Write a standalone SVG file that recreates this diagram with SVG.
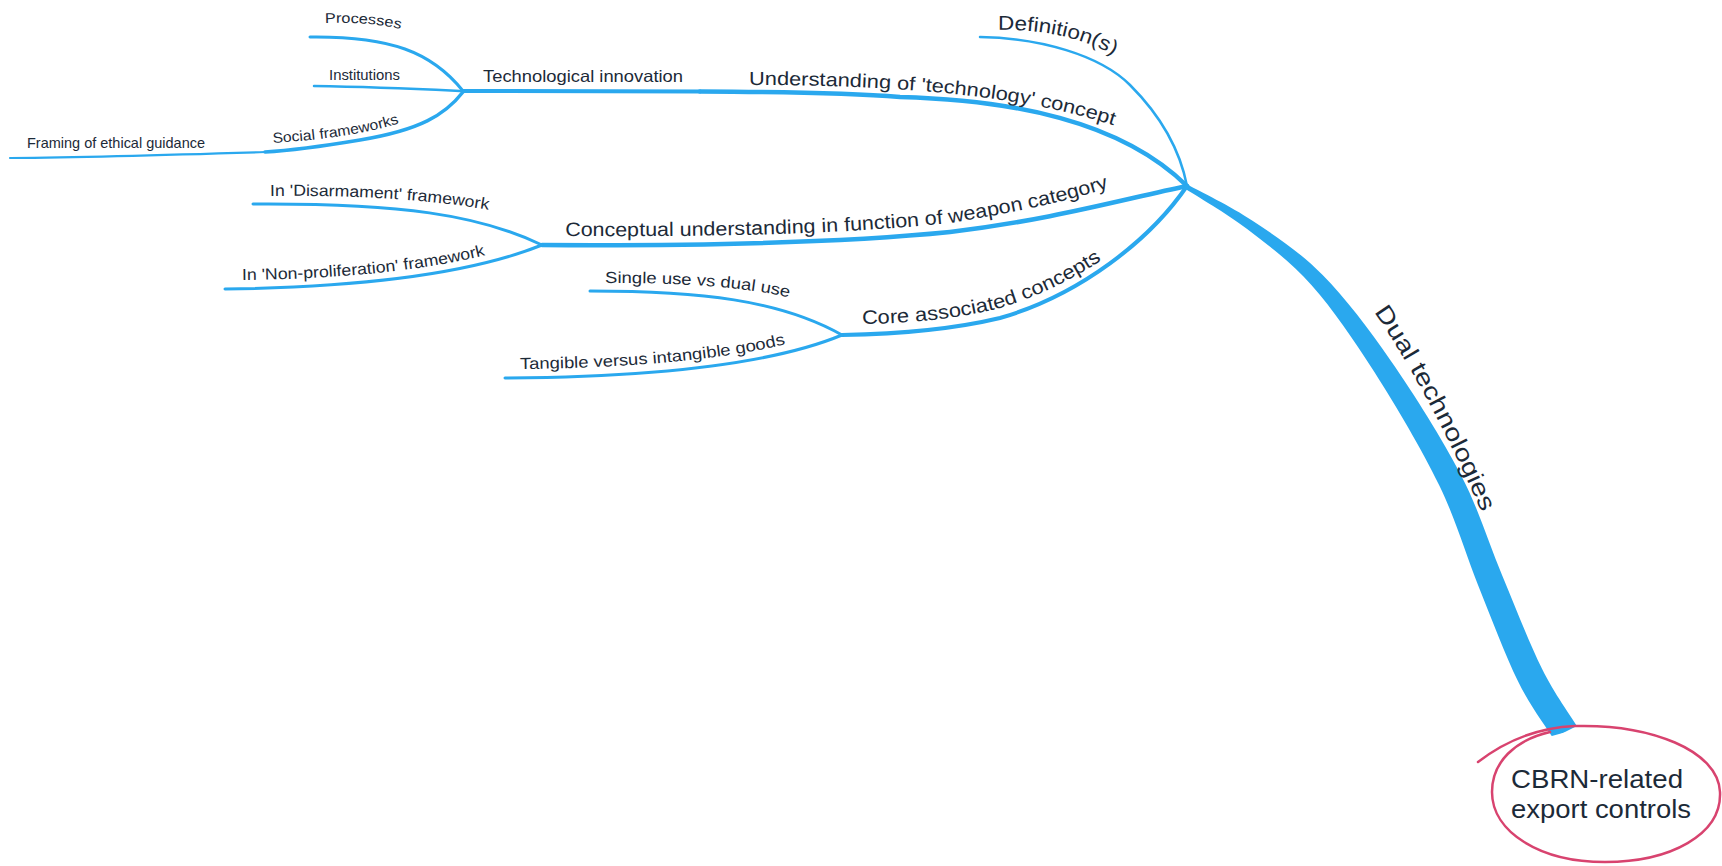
<svg xmlns="http://www.w3.org/2000/svg" width="1722" height="866" viewBox="0 0 1722 866">
<style>
.ln{fill:none;stroke:#2aa8ee;stroke-linecap:round;stroke-linejoin:round}
.t{font-family:"Liberation Sans",Arial,Helvetica,sans-serif;fill:#1c2a38}
</style>
<defs>
<path id="pDef" d="M998,30 C1040,29 1085,37 1122,60"/>
<path id="pUnd" d="M749,85 C900,85 1040,95 1140,135"/>
<path id="pConc" d="M565,236 C750,237 850,233 950,223 C1030,210 1080,198 1120,184"/>
<path id="pCore" d="M862,324 C920,323 960,318 1000,308 C1060,290 1110,258 1140,230"/>
<path id="pProc" d="M325,23 C355,22 385,24 407,31"/>
<path id="pSoc" d="M273,143 C320,140 370,134 405,121"/>
<path id="pDis" d="M270,196 C350,195 430,199 495,211"/>
<path id="pNon" d="M242,280 C330,279 420,272 490,254"/>
<path id="pSin" d="M605,283 C680,283 740,286 792,298"/>
<path id="pTan" d="M520,369 C620,368 720,361 790,343"/>
<path id="pDual" d="M1374,312 C1406,358 1444,426 1486,522"/>
</defs>
<rect width="1722" height="866" fill="#ffffff"/>
<g id="connectors">
<path d="M1188.3,184.9 C1199.1,190.9 1230.6,205.9 1252.9,220.9 C1275.3,235.9 1299.3,251.4 1322.4,274.8 C1345.5,298.2 1368.2,328.1 1391.3,361.4 C1414.4,394.7 1442.4,439.1 1460.8,474.7 C1479.3,510.3 1488.5,542.8 1502,575.1 C1515.5,607.5 1529.5,643.7 1542,668.8 C1554.5,693.9 1571.1,716.5 1576.9,726 L1553.1,738 C1547.3,728.5 1530.5,706.7 1518,681.2 C1505.5,655.7 1491.1,617.6 1478,584.9 C1464.9,552.3 1456.4,520.7 1439.2,485.3 C1422,449.9 1396,406 1374.7,372.6 C1353.4,339.3 1332.9,309.1 1311.6,285.2 C1290.3,261.3 1268.1,245.1 1247.1,229.1 C1226.1,213.1 1195.9,195.8 1185.7,189.1 Z" fill="#2aa8ee"/>
<path class="ln" stroke-width="2.5" d="M980,37 C1040,38 1100,55 1130,85 C1160,115 1180,150 1187,186"/>
<path class="ln" stroke-width="4" d="M463,91 L700,91.5"/>
<path class="ln" stroke-width="4.5" d="M700,91.5 C800,92 860,94 900,97 C1010,100 1120,120 1187,186"/>
<path class="ln" stroke-width="4.5" d="M542,245 C700,246 850,242 950,232 C1050,220 1120,200 1187,186"/>
<path class="ln" stroke-width="4" d="M842,335 C900,334 950,330 1000,318 C1080,295 1150,240 1187,186"/>
<path class="ln" stroke-width="3" d="M310,37 C390,36 432,52 463,91"/>
<path class="ln" stroke-width="2.5" d="M314,86 C380,87 420,89 463,91"/>
<path class="ln" stroke-width="3.5" d="M265,152 C300,150 330,145 360,140 C420,130 445,115 463,92"/>
<path class="ln" stroke-width="2.2" d="M10,158 C100,157 200,154 265,152"/>
<path class="ln" stroke-width="3" d="M253,204 C400,203 480,215 542,245"/>
<path class="ln" stroke-width="3" d="M225,289 C380,287 480,270 542,245"/>
<path class="ln" stroke-width="3" d="M590,291 C700,291 780,300 842,335"/>
<path class="ln" stroke-width="3" d="M505,378 C650,377 770,365 842,335"/>
</g>
<g id="node-center">
<ellipse cx="1606" cy="794" rx="113" ry="66" fill="#ffffff"/>
<path d="M1478,762 C1500,745 1530,728 1575,726 C1650,724 1718,750 1720,792 C1722,835 1670,862 1605,862 C1540,862 1492,832 1492,792 C1492,762 1515,740 1550,732" fill="none" stroke="#d8436f" stroke-width="2.5" stroke-linecap="round"/>
<text class="t" x="1511" y="788" font-size="25.5" textLength="172" lengthAdjust="spacingAndGlyphs">CBRN-related</text>
<text class="t" x="1511" y="818" font-size="25.5" textLength="180" lengthAdjust="spacingAndGlyphs">export controls</text>
</g>
<g id="node-dual"><text class="t" font-size="24"><textPath href="#pDual" textLength="228" lengthAdjust="spacingAndGlyphs">Dual technologies</textPath></text></g>
<g id="node-definition"><text class="t" font-size="20"><textPath href="#pDef" textLength="120" lengthAdjust="spacingAndGlyphs">Definition(s)</textPath></text></g>
<g id="node-understanding"><text class="t" font-size="19"><textPath href="#pUnd" textLength="368" lengthAdjust="spacingAndGlyphs">Understanding of 'technology' concept</textPath></text></g>
<g id="node-tech"><text class="t" x="483" y="82" font-size="16.5" textLength="200" lengthAdjust="spacingAndGlyphs">Technological innovation</text></g>
<g id="node-processes"><text class="t" font-size="14"><textPath href="#pProc" textLength="76" lengthAdjust="spacingAndGlyphs">Processes</textPath></text></g>
<g id="node-institutions"><text class="t" x="329" y="80" font-size="14" textLength="71" lengthAdjust="spacingAndGlyphs">Institutions</text></g>
<g id="node-social"><text class="t" font-size="14.5"><textPath href="#pSoc" textLength="128" lengthAdjust="spacingAndGlyphs">Social frameworks</textPath></text></g>
<g id="node-framing"><text class="t" x="27" y="148" font-size="14.5" textLength="178" lengthAdjust="spacingAndGlyphs">Framing of ethical guidance</text></g>
<g id="node-conceptual"><text class="t" font-size="19.5"><textPath href="#pConc" textLength="548" lengthAdjust="spacingAndGlyphs">Conceptual understanding in function of weapon category</textPath></text></g>
<g id="node-disarmament"><text class="t" font-size="16"><textPath href="#pDis" textLength="219" lengthAdjust="spacingAndGlyphs">In 'Disarmament' framework</textPath></text></g>
<g id="node-nonprolif"><text class="t" font-size="16"><textPath href="#pNon" textLength="245" lengthAdjust="spacingAndGlyphs">In 'Non-proliferation' framework</textPath></text></g>
<g id="node-core"><text class="t" font-size="19.5"><textPath href="#pCore" textLength="252" lengthAdjust="spacingAndGlyphs">Core associated concepts</textPath></text></g>
<g id="node-single"><text class="t" font-size="16"><textPath href="#pSin" textLength="185" lengthAdjust="spacingAndGlyphs">Single use vs dual use</textPath></text></g>
<g id="node-tangible"><text class="t" font-size="16"><textPath href="#pTan" textLength="267" lengthAdjust="spacingAndGlyphs">Tangible versus intangible goods</textPath></text></g>
</svg>
